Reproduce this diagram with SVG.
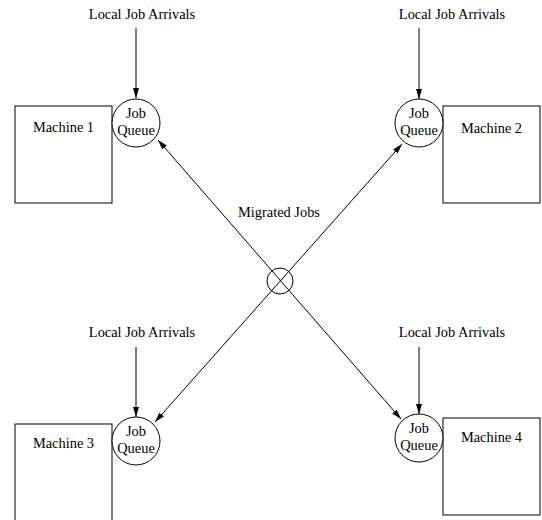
<svg xmlns="http://www.w3.org/2000/svg" width="542" height="520" viewBox="0 0 542 520">
  <style>
    text { font-family: "Liberation Serif", "Times New Roman", serif; font-size: 14.4px; fill: #000; text-anchor: middle; }
    .box { fill: #fff; stroke: #000; stroke-width: 1; }
    .queue { fill: #fff; stroke: #000; stroke-width: 1; }
    .edge { fill: none; stroke: #000; stroke-width: 1; }
  </style>
  <defs>
    <marker id="arrow" markerUnits="userSpaceOnUse" markerWidth="11" markerHeight="7" refX="10" refY="3" orient="auto-start-reverse">
      <path d="M0,0 L10,3 L0,6 z" fill="#000"/>
    </marker>
  </defs>
  <rect width="542" height="520" fill="#fff"/>

  <!-- connectors -->
  <g id="connectors">
    <line class="edge" x1="136" y1="28" x2="136" y2="98" marker-end="url(#arrow)"/>
    <line class="edge" x1="419" y1="28" x2="419" y2="99" marker-end="url(#arrow)"/>
    <line class="edge" x1="136" y1="347" x2="136" y2="417" marker-end="url(#arrow)"/>
    <line class="edge" x1="419" y1="347" x2="419" y2="414" marker-end="url(#arrow)"/>
    <line class="edge" x1="158" y1="140" x2="401" y2="419" marker-start="url(#arrow)" marker-end="url(#arrow)"/>
    <line class="edge" x1="402" y1="144" x2="155" y2="422" marker-start="url(#arrow)" marker-end="url(#arrow)"/>
  </g>

  <!-- migration switch -->
  <g id="switch">
    <circle cx="280" cy="281" r="13" fill="none" stroke="#000" stroke-width="1"/>
    <text x="279" y="217">Migrated Jobs</text>
  </g>

  <g id="arrivals1"><text x="142" y="19">Local Job Arrivals</text></g>
  <g id="arrivals2"><text x="452" y="19">Local Job Arrivals</text></g>
  <g id="arrivals3"><text x="142" y="337">Local Job Arrivals</text></g>
  <g id="arrivals4"><text x="452" y="337">Local Job Arrivals</text></g>

  <g id="machine1">
    <rect class="box" x="15" y="106" width="97" height="97"/>
    <text x="63.5" y="132">Machine 1</text>
  </g>
  <g id="queue1">
    <circle class="queue" cx="136" cy="123" r="24"/>
    <text x="136" y="118">Job</text>
    <text x="136" y="135">Queue</text>
  </g>

  <g id="machine2">
    <rect class="box" x="443" y="106" width="97" height="97"/>
    <text x="491.5" y="133">Machine 2</text>
  </g>
  <g id="queue2">
    <circle class="queue" cx="419" cy="123" r="24"/>
    <text x="419" y="118">Job</text>
    <text x="419" y="135">Queue</text>
  </g>

  <g id="machine3">
    <rect class="box" x="15" y="424" width="97" height="97"/>
    <text x="63.5" y="448">Machine 3</text>
  </g>
  <g id="queue3">
    <circle class="queue" cx="136" cy="441" r="24"/>
    <text x="136" y="436">Job</text>
    <text x="136" y="453">Queue</text>
  </g>

  <g id="machine4">
    <rect class="box" x="443" y="418" width="97" height="97"/>
    <text x="491.5" y="442">Machine 4</text>
  </g>
  <g id="queue4">
    <circle class="queue" cx="419" cy="438" r="24"/>
    <text x="419" y="433">Job</text>
    <text x="419" y="450">Queue</text>
  </g>
</svg>
